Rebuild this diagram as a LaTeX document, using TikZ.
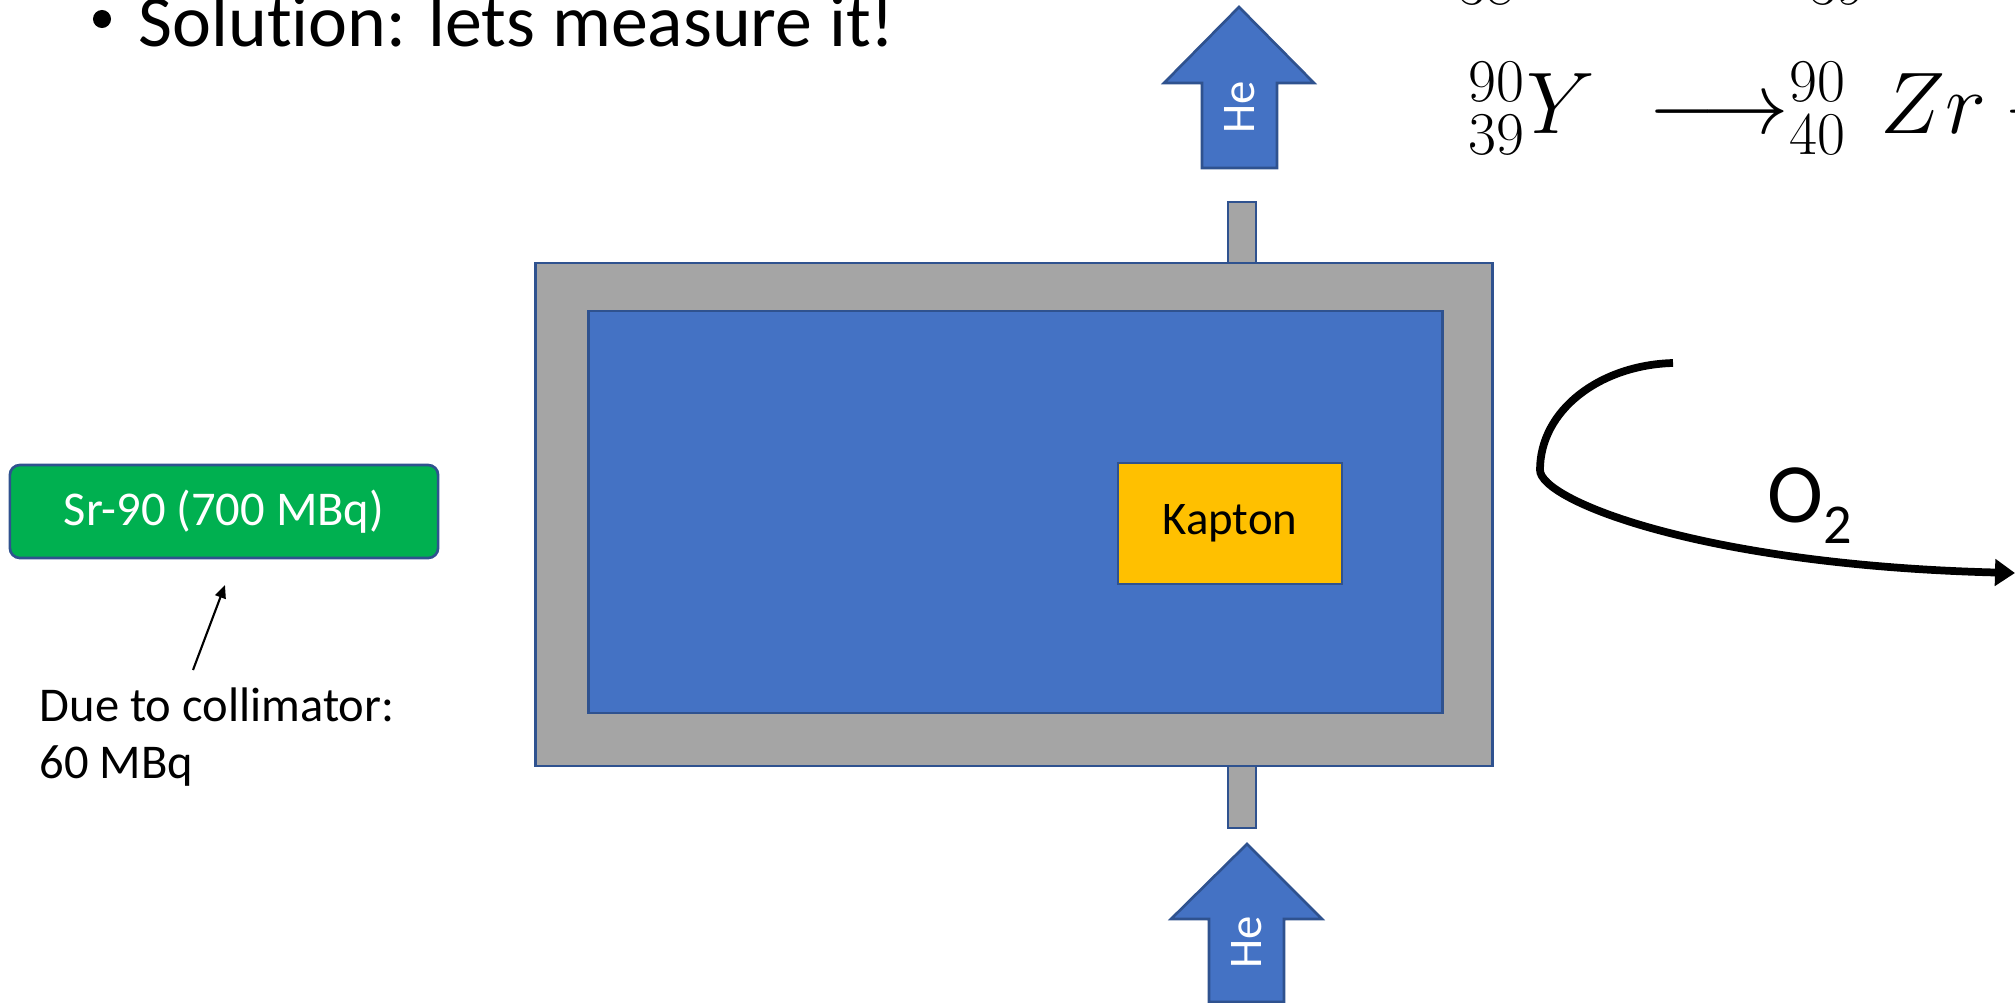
\documentclass[tikz,border=0pt]{standalone}
\usepackage[no-math]{fontspec}
\setmainfont{Carlito}[Ligatures=CommonOff]
\usetikzlibrary{arrows.meta}
\definecolor{cellblue}{HTML}{4472C4}
\definecolor{edgeblue}{HTML}{2F528F}
\definecolor{wallgrey}{HTML}{A5A5A5}
\definecolor{foilgold}{HTML}{FFC000}
\definecolor{srcgreen}{HTML}{00B050}

\begin{document}
\begin{tikzpicture}[x=0.01cm,y=-0.01cm,
	box/.style={draw=edgeblue, line width=0.75pt, inner sep=0pt},
	gasarrow/.style={fill=cellblue, draw=edgeblue, line width=0.75pt},
	gaslabel/.style={rotate=90, text=white, inner sep=0pt, font=\fontsize{13.3}{16}\selectfont}]
	\useasboundingbox (0,0) rectangle (2015,1003);
	\clip (0,0) rectangle (2015,1003);
	% title
	\node[circle, fill=black, inner sep=0pt, minimum size=0.18cm] (bullet) at (102,19) {};
	\node[anchor=base west, inner sep=0pt, font=\fontsize{21}{25}\selectfont] (title) at (138,47) {Solution: lets measure it!};
	% decay chain
	\node[anchor=base west, inner sep=0pt, font=\fontsize{26.6}{32}\selectfont] (decaysr) at (1458,-17)
		{$^{90}_{38}Sr\mkern6mu \longrightarrow^{90}_{39}\mkern2mu Y + e^- + \bar{\nu}_e$};
	\node[anchor=base west, inner sep=0pt, font=\fontsize{26.6}{32}\selectfont] (decayy) at (1468,133)
		{$^{90}_{39}Y\mkern6mu \longrightarrow^{90}_{40}\mkern2mu Zr + e^- + \bar{\nu}_e$};
	% source
	\node[box, fill=srcgreen, rounded corners=0.1cm, minimum width=4.28cm, minimum height=0.93cm,
		text=white, font=\fontsize{13.8}{17}\selectfont] (source) at (224,511.5) {Sr-90 (700 MBq)};
	\coordinate (notetail) at (193,670);
	\coordinate (notetip) at (225,585);
	\draw[line width=0.6pt, -{Triangle[length=0.13cm,width=0.11cm]}] (notetail) -- (notetip);
	\node[anchor=north west, align=left, inner sep=0pt, font=\fontsize{13.8}{16.2}\selectfont] (note) at (39,687)
		{Due to collimator:\\60 MBq};
	% chamber
	\node[box, fill=wallgrey, minimum width=9.56cm, minimum height=5.03cm] (chamber) at (1014,514.5) {};
	\node[box, fill=cellblue, minimum width=8.53cm, minimum height=4.02cm] (gas) at (1015.5,512) {};
	\node[box, fill=foilgold, minimum width=2.24cm, minimum height=1.21cm,
		font=\fontsize{13.3}{16}\selectfont] (kapton) at (1230,523.5) {Kapton};
	\node[box, fill=wallgrey, minimum width=0.28cm, minimum height=0.61cm] (outlet) at (1242,232.5) {};
	\node[box, fill=wallgrey, minimum width=0.28cm, minimum height=0.62cm] (inlet) at (1242,797) {};
	% He out
	\draw[gasarrow] (1202,168) -- (1202,83) -- (1164,83) -- (1239,7) -- (1314,83) -- (1277,83) -- (1277,168) -- cycle;
	\node[gaslabel] (heout) at (1240,107) {He};
	% He in
	\draw[gasarrow] (1209,1002) -- (1209,919) -- (1171,919) -- (1247,844) -- (1322,919) -- (1284,919) -- (1284,1002) -- cycle;
	\node[gaslabel] (hein) at (1247,942) {He};
	% oxygen
	\coordinate (flowin) at (1673,363);
	\coordinate (flowturn) at (1540,470);
	\coordinate (flowout) at (2015,573);
	\draw[line width=2.2pt, -{Triangle[length=0.2cm,width=0.26cm]}] (flowin)
		.. controls (1600,365) and (1540,410) .. (flowturn)
		.. controls (1540,500) and (1700,565) .. (flowout);
	\node[anchor=base west, inner sep=0pt, font=\fontsize{24}{28}\selectfont] (otwo) at (1767,522)
		{O\raisebox{-6pt}{\fontsize{16}{18}\selectfont 2}};
\end{tikzpicture}
\end{document}
